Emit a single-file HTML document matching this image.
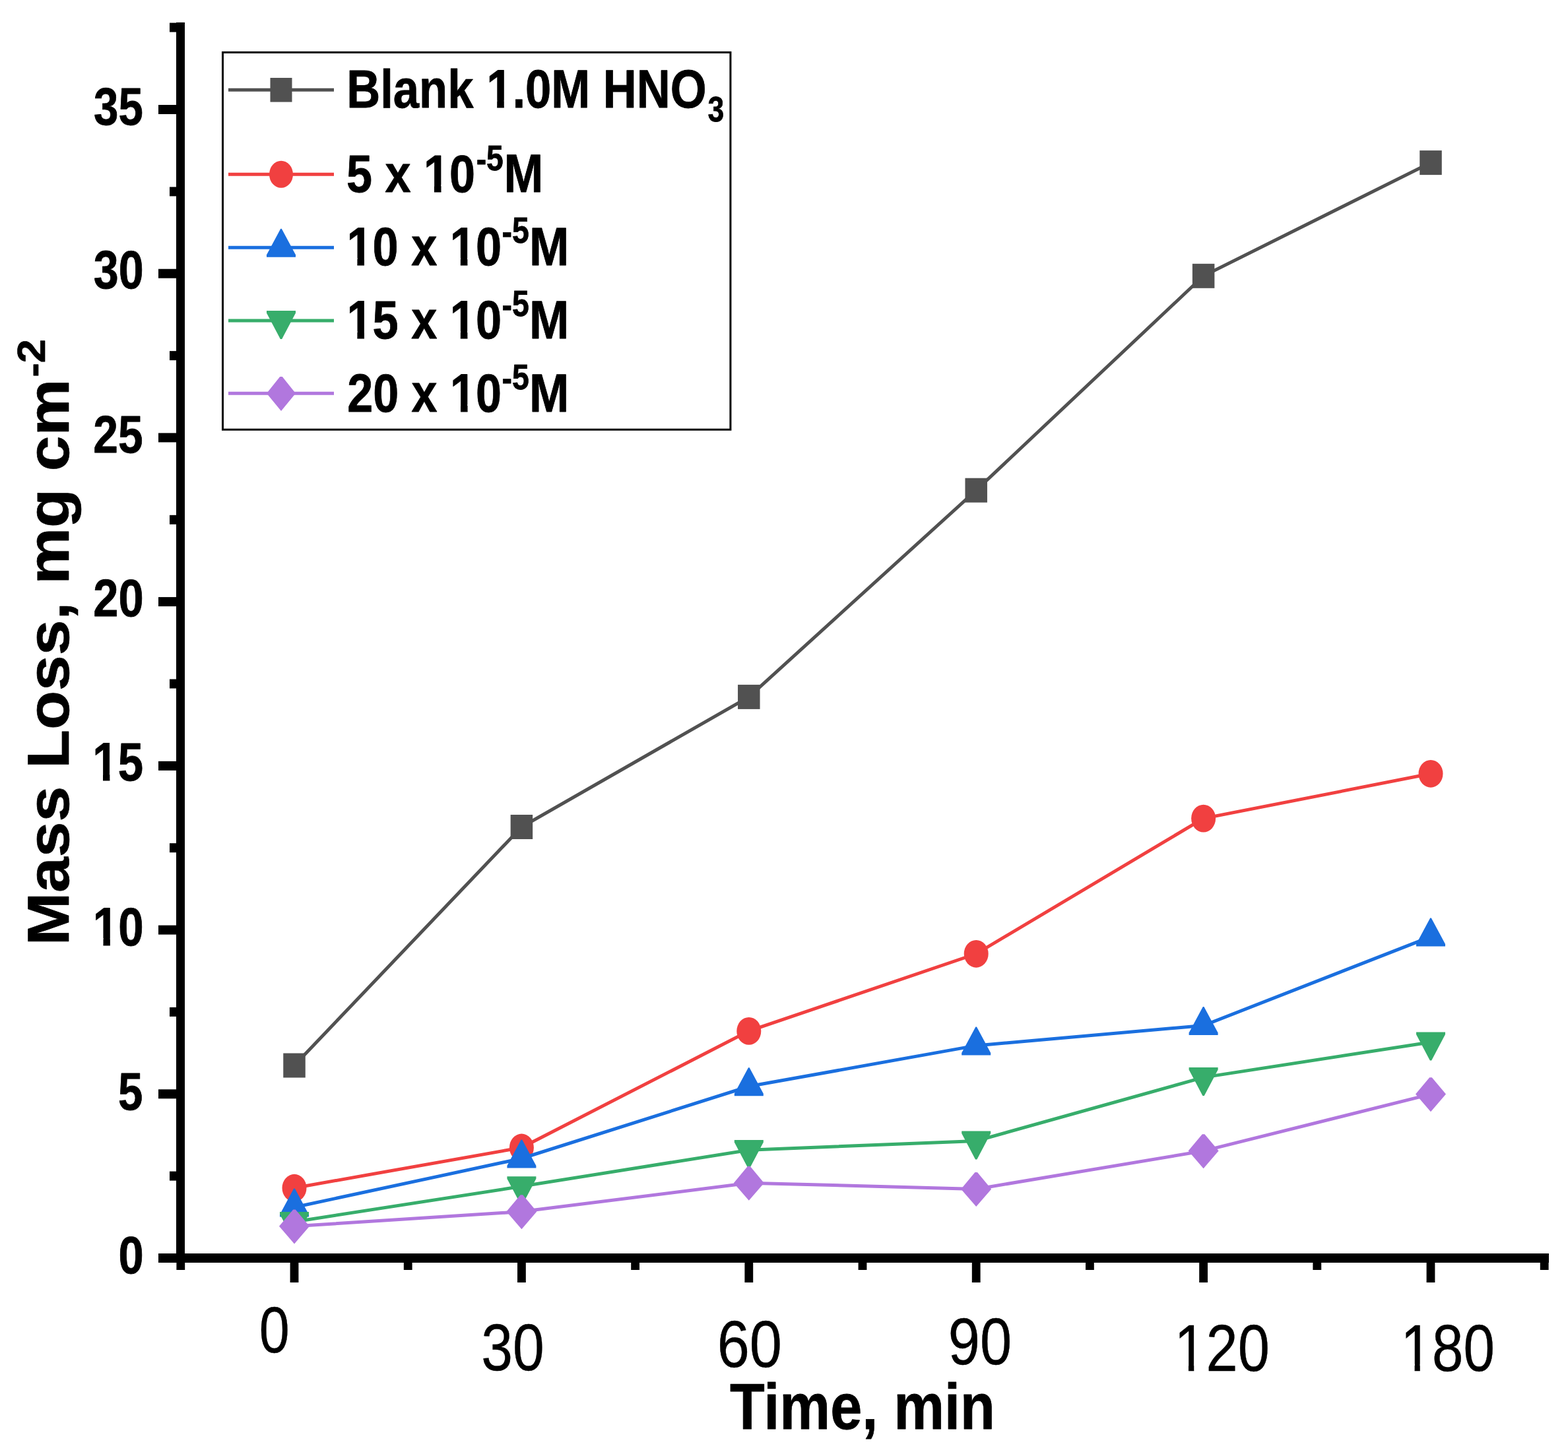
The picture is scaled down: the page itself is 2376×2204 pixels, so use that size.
<!DOCTYPE html>
<html><head><meta charset="utf-8"><title>Mass Loss vs Time</title>
<style>html,body{margin:0;padding:0;background:#fff}svg{display:block}</style></head>
<body>
<svg width="2376" height="2204" viewBox="0 0 2376 2204">
<defs><clipPath id="c0" clipPathUnits="userSpaceOnUse"><path clip-rule="evenodd" d="M-500,-500H3000V500H-500Z M2.80,-13.21H22.69V3.50H2.80Z M37.71,-13.21H56.33V3.50H37.71Z"/></clipPath><clipPath id="c1" clipPathUnits="userSpaceOnUse"><path clip-rule="evenodd" d="M-500,-500H3000V500H-500Z M2.80,-13.21H22.69V3.50H2.80Z M37.71,-13.21H56.33V3.50H37.71Z"/></clipPath><clipPath id="c2" clipPathUnits="userSpaceOnUse"><path clip-rule="evenodd" d="M-500,-500H3000V500H-500Z M4.40,-10.18H24.78V3.21H4.40Z M34.35,-10.18H53.95V3.21H34.35Z"/></clipPath><clipPath id="c3" clipPathUnits="userSpaceOnUse"><path clip-rule="evenodd" d="M-500,-500H3000V500H-500Z M4.40,-10.19H24.78V3.22H4.40Z M34.35,-10.19H53.95V3.22H34.35Z"/></clipPath><clipPath id="c4" clipPathUnits="userSpaceOnUse"><path clip-rule="evenodd" d="M-500,-500H3000V500H-500Z M302.91,-13.20H322.80V3.49H302.91Z M337.80,-13.20H356.42V3.49H337.80Z"/></clipPath><clipPath id="c5" clipPathUnits="userSpaceOnUse"><path clip-rule="evenodd" d="M-500,-500H3000V500H-500Z M169.60,-13.20H189.49V3.50H169.60Z M204.51,-13.20H223.13V3.50H204.51Z"/></clipPath><clipPath id="c6" clipPathUnits="userSpaceOnUse"><path clip-rule="evenodd" d="M-500,-500H3000V500H-500Z M2.80,-13.20H22.69V3.50H2.80Z M37.71,-13.20H56.33V3.50H37.71Z M225.22,-13.20H245.11V3.50H225.22Z M260.12,-13.20H278.74V3.50H260.12Z"/></clipPath><clipPath id="c7" clipPathUnits="userSpaceOnUse"><path clip-rule="evenodd" d="M-500,-500H3000V500H-500Z M2.80,-13.20H22.69V3.50H2.80Z M37.71,-13.20H56.33V3.50H37.71Z M225.21,-13.20H245.11V3.50H225.21Z M260.12,-13.20H278.74V3.50H260.12Z"/></clipPath><clipPath id="c8" clipPathUnits="userSpaceOnUse"><path clip-rule="evenodd" d="M-500,-500H3000V500H-500Z M225.21,-13.20H245.11V3.50H225.21Z M260.12,-13.20H278.74V3.50H260.12Z"/></clipPath></defs>
<rect width="2376" height="2204" fill="#fff"/>
<polyline points="446.0,1615.0 790.4,1253.5 1134.8,1056.4 1479.2,743.2 1823.6,418.3 2168.0,246.6" fill="none" stroke="#515151" stroke-width="5" stroke-linejoin="miter"/>
<rect x="429.25" y="1596.50" width="33.5" height="37" fill="#515151"/>
<rect x="773.65" y="1235.00" width="33.5" height="37" fill="#515151"/>
<rect x="1118.05" y="1037.90" width="33.5" height="37" fill="#515151"/>
<rect x="1462.45" y="724.70" width="33.5" height="37" fill="#515151"/>
<rect x="1806.85" y="399.80" width="33.5" height="37" fill="#515151"/>
<rect x="2151.25" y="228.10" width="33.5" height="37" fill="#515151"/>
<polyline points="446.0,1800.7 790.4,1739.5 1134.8,1562.9 1479.2,1445.8 1823.6,1240.6 2168.0,1172.8" fill="none" stroke="#F14040" stroke-width="5" stroke-linejoin="miter"/>
<ellipse cx="446.0" cy="1800.7" rx="18.5" ry="20.9" fill="#F14040"/>
<ellipse cx="790.4" cy="1739.5" rx="18.5" ry="20.9" fill="#F14040"/>
<ellipse cx="1134.8" cy="1562.9" rx="18.5" ry="20.9" fill="#F14040"/>
<ellipse cx="1479.2" cy="1445.8" rx="18.5" ry="20.9" fill="#F14040"/>
<ellipse cx="1823.6" cy="1240.6" rx="18.5" ry="20.9" fill="#F14040"/>
<ellipse cx="2168.0" cy="1172.8" rx="18.5" ry="20.9" fill="#F14040"/>
<polyline points="446.0,1830.0 790.4,1756.0 1134.8,1646.8 1479.2,1584.9 1823.6,1554.5 2168.0,1419.9" fill="none" stroke="#1A6FDF" stroke-width="5" stroke-linejoin="miter"/>
<polygon points="445.2,1801.5 446.8,1801.5 468.0,1841.0 468.0,1844.5 424.0,1844.5 424.0,1841.0" fill="#1A6FDF"/>
<polygon points="789.6,1727.5 791.2,1727.5 812.4,1767.0 812.4,1770.5 768.4,1770.5 768.4,1767.0" fill="#1A6FDF"/>
<polygon points="1134.0,1618.3 1135.6,1618.3 1156.8,1657.8 1156.8,1661.3 1112.8,1661.3 1112.8,1657.8" fill="#1A6FDF"/>
<polygon points="1478.4,1556.4 1480.0,1556.4 1501.2,1595.9 1501.2,1599.4 1457.2,1599.4 1457.2,1595.9" fill="#1A6FDF"/>
<polygon points="1822.8,1526.0 1824.4,1526.0 1845.6,1565.5 1845.6,1569.0 1801.6,1569.0 1801.6,1565.5" fill="#1A6FDF"/>
<polygon points="2167.2,1391.4 2168.8,1391.4 2190.0,1430.9 2190.0,1434.4 2146.0,1434.4 2146.0,1430.9" fill="#1A6FDF"/>
<polyline points="446.0,1852.0 790.4,1798.3 1134.8,1743.2 1479.2,1729.5 1823.6,1633.1 2168.0,1579.7" fill="none" stroke="#37AD6B" stroke-width="5" stroke-linejoin="miter"/>
<polygon points="424.0,1836.9 468.0,1836.9 468.0,1840.4 447.2,1879.9 444.8,1879.9 424.0,1840.4" fill="#37AD6B"/>
<polygon points="768.4,1783.2 812.4,1783.2 812.4,1786.7 791.6,1826.2 789.2,1826.2 768.4,1786.7" fill="#37AD6B"/>
<polygon points="1112.8,1728.1 1156.8,1728.1 1156.8,1731.6 1136.0,1771.1 1133.6,1771.1 1112.8,1731.6" fill="#37AD6B"/>
<polygon points="1457.2,1714.4 1501.2,1714.4 1501.2,1717.9 1480.4,1757.4 1478.0,1757.4 1457.2,1717.9" fill="#37AD6B"/>
<polygon points="1801.6,1618.0 1845.6,1618.0 1845.6,1621.5 1824.8,1661.0 1822.4,1661.0 1801.6,1621.5" fill="#37AD6B"/>
<polygon points="2146.0,1564.6 2190.0,1564.6 2190.0,1568.1 2169.2,1607.6 2166.8,1607.6 2146.0,1568.1" fill="#37AD6B"/>
<polyline points="446.0,1858.8 790.4,1836.6 1134.8,1793.2 1479.2,1802.4 1823.6,1744.6 2168.0,1658.6" fill="none" stroke="#B177DE" stroke-width="5" stroke-linejoin="miter"/>
<polygon points="444.2,1833.4 447.8,1833.4 469.0,1858.8 446.0,1885.4 423.0,1858.8" fill="#B177DE"/>
<polygon points="788.6,1811.2 792.2,1811.2 813.4,1836.6 790.4,1863.2 767.4,1836.6" fill="#B177DE"/>
<polygon points="1133.0,1767.8 1136.6,1767.8 1157.8,1793.2 1134.8,1819.8 1111.8,1793.2" fill="#B177DE"/>
<polygon points="1477.4,1777.0 1481.0,1777.0 1502.2,1802.4 1479.2,1829.0 1456.2,1802.4" fill="#B177DE"/>
<polygon points="1821.8,1719.2 1825.4,1719.2 1846.6,1744.6 1823.6,1771.2 1800.6,1744.6" fill="#B177DE"/>
<polygon points="2166.2,1633.2 2169.8,1633.2 2191.0,1658.6 2168.0,1685.2 2145.0,1658.6" fill="#B177DE"/>
<g fill="#000">
<rect x="267" y="34" width="13" height="1880"/>
<rect x="240" y="1900" width="2107" height="14"/>
<rect x="240" y="1900.0" width="30" height="14"/>
<rect x="240" y="1651.3" width="30" height="14"/>
<rect x="240" y="1402.6" width="30" height="14"/>
<rect x="240" y="1153.9" width="30" height="14"/>
<rect x="240" y="905.1" width="30" height="14"/>
<rect x="240" y="656.4" width="30" height="14"/>
<rect x="240" y="407.7" width="30" height="14"/>
<rect x="240" y="159.0" width="30" height="14"/>
<rect x="257" y="1775.6" width="11" height="14"/>
<rect x="257" y="1526.9" width="11" height="14"/>
<rect x="257" y="1278.2" width="11" height="14"/>
<rect x="257" y="1029.5" width="11" height="14"/>
<rect x="257" y="780.8" width="11" height="14"/>
<rect x="257" y="532.1" width="11" height="14"/>
<rect x="257" y="283.4" width="11" height="14"/>
<rect x="257" y="34.6" width="11" height="14"/>
<rect x="439.6" y="1910" width="12.8" height="34"/>
<rect x="784.0" y="1910" width="12.8" height="34"/>
<rect x="1128.4" y="1910" width="12.8" height="34"/>
<rect x="1472.8" y="1910" width="12.8" height="34"/>
<rect x="1817.2" y="1910" width="12.8" height="34"/>
<rect x="2161.6" y="1910" width="12.8" height="34"/>
<rect x="267.4" y="1910" width="12.8" height="15"/>
<rect x="611.8" y="1910" width="12.8" height="15"/>
<rect x="956.2" y="1910" width="12.8" height="15"/>
<rect x="1300.6" y="1910" width="12.8" height="15"/>
<rect x="1645.0" y="1910" width="12.8" height="15"/>
<rect x="1989.4" y="1910" width="12.8" height="15"/>
<rect x="2333.8" y="1910" width="12.8" height="15"/>
</g>
<rect x="337.5" y="79.4" width="769.4" height="571.8" fill="none" stroke="#000" stroke-width="3"/>
<line x1="346" y1="136.3" x2="506" y2="136.3" stroke="#515151" stroke-width="5"/>
<rect x="409.50" y="118.00" width="33" height="36.6" fill="#515151"/>
<line x1="346" y1="264.3" x2="506" y2="264.3" stroke="#F14040" stroke-width="5"/>
<ellipse cx="426.0" cy="264.3" rx="18.0" ry="20.5" fill="#F14040"/>
<line x1="346" y1="375.3" x2="506" y2="375.3" stroke="#1A6FDF" stroke-width="5"/>
<polygon points="425.2,346.8 426.8,346.8 448.0,386.3 448.0,389.8 404.0,389.8 404.0,386.3" fill="#1A6FDF"/>
<line x1="346" y1="486" x2="506" y2="486" stroke="#37AD6B" stroke-width="5"/>
<polygon points="404.0,470.9 448.0,470.9 448.0,474.4 427.2,513.9 424.8,513.9 404.0,474.4" fill="#37AD6B"/>
<line x1="346" y1="596.3" x2="506" y2="596.3" stroke="#B177DE" stroke-width="5"/>
<polygon points="424.2,570.9 427.8,570.9 448.0,596.3 426.0,622.9 404.0,596.3" fill="#B177DE"/>
<g font-family="'Liberation Sans', Arial, sans-serif" font-size="100" fill="#000" stroke="#000" stroke-linejoin="round">
<text transform="translate(179.60,1929.79) scale(0.6874,0.8055)" font-weight="bold" stroke-width="1.00">0</text>
<text transform="translate(179.12,1681.79) scale(0.6724,0.8055)" font-weight="bold" stroke-width="1.02">5</text>
<text transform="translate(140.83,1432.79) scale(0.6909,0.8083)" font-weight="bold" stroke-width="1.00" clip-path="url(#c0)">10</text>
<text transform="translate(140.34,1183.19) scale(0.6900,0.8070)" font-weight="bold" stroke-width="1.00" clip-path="url(#c1)">15</text>
<text transform="translate(141.28,934.49) scale(0.6876,0.8055)" font-weight="bold" stroke-width="1.00">20</text>
<text transform="translate(141.31,686.20) scale(0.6772,0.7928)" font-weight="bold" stroke-width="1.02">25</text>
<text transform="translate(141.78,436.78) scale(0.6820,0.8083)" font-weight="bold" stroke-width="1.01">30</text>
<text transform="translate(142.00,188.79) scale(0.6728,0.8054)" font-weight="bold" stroke-width="1.01">35</text>
<text transform="translate(392.78,2049.69) scale(0.8258,0.9910)" font-weight="normal" stroke-width="0.44">0</text>
<text transform="translate(729.25,2077.49) scale(0.8576,0.9996)" font-weight="normal" stroke-width="0.43">30</text>
<text transform="translate(1086.77,2071.89) scale(0.8826,1.0011)" font-weight="normal" stroke-width="0.42">60</text>
<text transform="translate(1436.76,2067.88) scale(0.8660,1.0024)" font-weight="normal" stroke-width="0.43">90</text>
<text transform="translate(1779.53,2077.78) scale(0.8649,1.0052)" font-weight="normal" stroke-width="0.43" clip-path="url(#c2)">120</text>
<text transform="translate(2122.44,2077.69) scale(0.8538,0.9982)" font-weight="normal" stroke-width="0.43" clip-path="url(#c3)">180</text>
<text transform="translate(1106.09,2166.40) scale(0.8640,0.9826)" font-weight="bold" stroke-width="0.81">Time, min</text>
<text transform="translate(103.74,1433.37) rotate(-90) scale(0.9660,0.8835)" font-weight="bold" stroke-width="0.81">Mass Loss, mg cm</text>
<text transform="translate(68.44,571.80) rotate(-90) scale(0.6495,0.5870)" font-weight="bold" stroke-width="1.21" dy="3.41 -3.41">-2</text>
<text transform="translate(525.20,162.70) scale(0.7063,0.8211)" font-weight="bold" stroke-width="0.98" clip-path="url(#c4)">Blank 1.0M HNO</text>
<text transform="translate(1072.55,184.05) scale(0.4444,0.5377)" font-weight="bold" stroke-width="1.53">3</text>
<text transform="translate(524.94,290.70) scale(0.7018,0.8028)" font-weight="bold" stroke-width="1.00" clip-path="url(#c5)">5 x 10</text>
<text transform="translate(721.69,258.05) scale(0.4623,0.5455)" font-weight="bold" stroke-width="1.49" dy="2.93 -2.93">-5</text>
<text transform="translate(763.53,290.70) scale(0.7171,0.8145)" font-weight="bold" stroke-width="0.98">M</text>
<text transform="translate(525.45,401.69) scale(0.7033,0.8098)" font-weight="bold" stroke-width="0.99" clip-path="url(#c6)">10 x 10</text>
<text transform="translate(760.59,368.25) scale(0.4636,0.5484)" font-weight="bold" stroke-width="1.48" dy="2.92 -2.92">-5</text>
<text transform="translate(802.08,401.70) scale(0.7242,0.8218)" font-weight="bold" stroke-width="0.97">M</text>
<text transform="translate(525.45,512.79) scale(0.7033,0.8084)" font-weight="bold" stroke-width="0.99" clip-path="url(#c7)">15 x 10</text>
<text transform="translate(760.59,479.15) scale(0.4636,0.5484)" font-weight="bold" stroke-width="1.48" dy="2.92 -2.92">-5</text>
<text transform="translate(802.08,512.50) scale(0.7242,0.8160)" font-weight="bold" stroke-width="0.97">M</text>
<text transform="translate(526.14,623.69) scale(0.7012,0.8084)" font-weight="bold" stroke-width="0.99" clip-path="url(#c8)">20 x 10</text>
<text transform="translate(760.59,590.05) scale(0.4635,0.5456)" font-weight="bold" stroke-width="1.49" dy="2.93 -2.93">-5</text>
<text transform="translate(802.08,623.60) scale(0.7242,0.8160)" font-weight="bold" stroke-width="0.97">M</text>
</g></svg>
</body></html>
